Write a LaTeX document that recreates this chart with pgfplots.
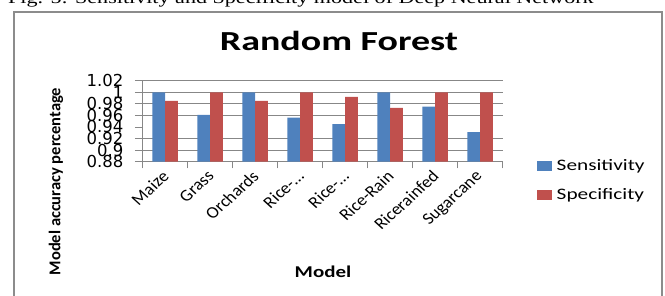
\documentclass[border=0pt]{standalone}
\usepackage{pgfplots}
\usepackage{pgfplotstable}
\pgfplotsset{compat=1.18}
\usepackage{fontspec}
\setmainfont{Carlito}
\newfontfamily\timesf{Liberation Serif}
\newfontfamily\dejavu{DejaVu Sans}
\definecolor{xblue}{HTML}{4F81BD}
\definecolor{xred}{HTML}{C0504D}
\definecolor{xgrid}{HTML}{878787}
\definecolor{xframe}{HTML}{8C8C8C}
\newcommand{\lab}[1]{\scalebox{1.1}[1]{\rotatebox{45}{#1}}}
\pgfplotsset{/pgfplots/ybar legend/.style={/pgfplots/legend image code/.code={\fill[##1] (0pt,-5pt) rectangle (15pt,5pt);}}}

\pgfplotstableread{
x sens spec
0 1.000 0.985
1 0.961 1.000
2 1.000 0.985
3 0.956 1.000
4 0.945 0.992
5 1.000 0.973
6 0.975 1.000
7 0.931 1.000
}\datatable

\begin{document}
\begin{tikzpicture}[x=1pt,y=1pt]
\path[use as bounding box] (0,0) rectangle (665,296);
\begin{scope}
\clip (0,0) rectangle (665,296);
\node[anchor=base west, inner sep=0pt, font=\timesf\fontsize{17}{20}\selectfont] at (8,292) {\scalebox{1.3}[1]{Fig. 5: Sensitivity and Specificity model of Deep Neural Network}};
\draw[xframe, line width=2pt] (14,-10) -- (14,284) -- (662,284) -- (662,-10);
\end{scope}
\node[anchor=base, inner sep=0pt, font=\bfseries\fontsize{27.5}{30}\selectfont] at (339,245) {\scalebox{1.38}[1]{Random Forest}};
\begin{axis}[
  at={(142.7pt,134.3pt)}, anchor=south west, scale only axis,
  width=360pt, height=81pt,
  xmin=-0.5, xmax=7.5, ymin=0.88, ymax=1.02,
  ybar=0pt, bar width=12.7pt,
  every axis plot post/.append style={legend image code/.code={\fill[##1] (0pt,-5pt) rectangle (15pt,5pt);}},
  axis x line*=bottom, axis y line*=left,
  axis line style={-, xgrid, line width=0.8pt},
  ytick={0.88,0.9,0.92,0.96,0.98,1,1.02},
  extra y ticks={0.94}, extra y tick style={grid=none},
  ymajorgrids, major grid style={xgrid, line width=0.8pt},
  tick align=outside, major tick length=7.7pt, minor tick length=6.7pt,
  tick style={xgrid, line width=0.8pt},
  xtick={0,...,7}, x tick style={draw=none},
  minor xtick={-0.5,0.5,...,7.5},
  minor x tick style={draw=xgrid, line width=0.8pt},
  xticklabels={\lab{Maize},\lab{Grass},\lab{Orchards},\lab{Rice-…},\lab{Rice-…},\lab{Rice-Rain},\lab{Ricerainfed},\lab{Sugarcane}},
  xticklabel style={font=\fontsize{16.5}{18}\selectfont, anchor=north east, inner sep=0pt, xshift=5pt, yshift=0pt},
  yticklabel style={font=\dejavu\fontsize{16.5}{17}\selectfont, xshift=-8pt},
  /pgf/number format/assume math mode=true,
  /pgf/number format/fixed, /pgf/number format/precision=2,
  ylabel={Model accuracy percentage},
  every axis y label/.style={at={(axis description cs:-0.2408,-0.244)}, rotate=90, anchor=center, font=\bfseries\fontsize{16.5}{18}\selectfont},
  xlabel={\scalebox{1.27}[1]{Model}},
  every axis x label/.style={at={(axis description cs:0.5008,-1.427)}, anchor=base, font=\bfseries\fontsize{16.5}{18}\selectfont},
  legend style={at={(1.094,0.05)}, anchor=north west, draw=none, fill=none, inner sep=0pt, row sep=12pt, font=\fontsize{16}{18}\selectfont,
    /tikz/every odd column/.append style={column sep=3pt}},
  legend cell align=left,
]
\addplot[fill=xblue, draw=none] table[x=x, y=sens] {\datatable};
\addlegendentry{\scalebox{1.33}[1]{Sensitivity}}
\addplot[fill=xred, draw=none] table[x=x, y=spec] {\datatable};
\addlegendentry{\scalebox{1.33}[1]{Specificity}}
\end{axis}
\end{tikzpicture}
\end{document}
